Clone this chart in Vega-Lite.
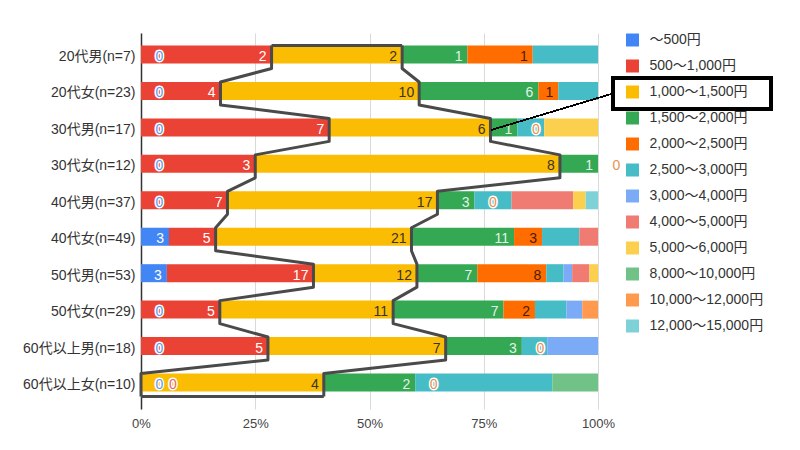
{
  "$schema": "https://vega.github.io/schema/vega-lite/v6.json",
  "width": 457,
  "height": 376,
  "autosize": {"type": "none"},
  "padding": {"left": 141, "top": 33, "right": 202, "bottom": 41},
  "background": "white",
  "config": {
    "font": "Liberation Sans, 'Noto Sans CJK JP', sans-serif",
    "view": {"stroke": null}
  },
  "data": {
    "values": [
      {"g": "20代男(n=7)", "r": 1, "c": "～500円", "k": 1, "n": 0},
      {"g": "20代男(n=7)", "r": 1, "c": "500～1,000円", "k": 2, "n": 2},
      {"g": "20代男(n=7)", "r": 1, "c": "1,000～1,500円", "k": 3, "n": 2},
      {"g": "20代男(n=7)", "r": 1, "c": "1,500～2,000円", "k": 4, "n": 1},
      {"g": "20代男(n=7)", "r": 1, "c": "2,000～2,500円", "k": 5, "n": 1},
      {"g": "20代男(n=7)", "r": 1, "c": "2,500～3,000円", "k": 6, "n": 1},

      {"g": "20代女(n=23)", "r": 2, "c": "～500円", "k": 1, "n": 0},
      {"g": "20代女(n=23)", "r": 2, "c": "500～1,000円", "k": 2, "n": 4},
      {"g": "20代女(n=23)", "r": 2, "c": "1,000～1,500円", "k": 3, "n": 10},
      {"g": "20代女(n=23)", "r": 2, "c": "1,500～2,000円", "k": 4, "n": 6},
      {"g": "20代女(n=23)", "r": 2, "c": "2,000～2,500円", "k": 5, "n": 1},
      {"g": "20代女(n=23)", "r": 2, "c": "2,500～3,000円", "k": 6, "n": 2},

      {"g": "30代男(n=17)", "r": 3, "c": "～500円", "k": 1, "n": 0},
      {"g": "30代男(n=17)", "r": 3, "c": "500～1,000円", "k": 2, "n": 7},
      {"g": "30代男(n=17)", "r": 3, "c": "1,000～1,500円", "k": 3, "n": 6},
      {"g": "30代男(n=17)", "r": 3, "c": "1,500～2,000円", "k": 4, "n": 1},
      {"g": "30代男(n=17)", "r": 3, "c": "2,000～2,500円", "k": 5, "n": 0},
      {"g": "30代男(n=17)", "r": 3, "c": "2,500～3,000円", "k": 6, "n": 1},
      {"g": "30代男(n=17)", "r": 3, "c": "5,000～6,000円", "k": 9, "n": 2},

      {"g": "30代女(n=12)", "r": 4, "c": "～500円", "k": 1, "n": 0},
      {"g": "30代女(n=12)", "r": 4, "c": "500～1,000円", "k": 2, "n": 3},
      {"g": "30代女(n=12)", "r": 4, "c": "1,000～1,500円", "k": 3, "n": 8},
      {"g": "30代女(n=12)", "r": 4, "c": "1,500～2,000円", "k": 4, "n": 1},
      {"g": "30代女(n=12)", "r": 4, "c": "2,000～2,500円", "k": 5, "n": 0},

      {"g": "40代男(n=37)", "r": 5, "c": "～500円", "k": 1, "n": 0},
      {"g": "40代男(n=37)", "r": 5, "c": "500～1,000円", "k": 2, "n": 7},
      {"g": "40代男(n=37)", "r": 5, "c": "1,000～1,500円", "k": 3, "n": 17},
      {"g": "40代男(n=37)", "r": 5, "c": "1,500～2,000円", "k": 4, "n": 3},
      {"g": "40代男(n=37)", "r": 5, "c": "2,000～2,500円", "k": 5, "n": 0},
      {"g": "40代男(n=37)", "r": 5, "c": "2,500～3,000円", "k": 6, "n": 3},
      {"g": "40代男(n=37)", "r": 5, "c": "4,000～5,000円", "k": 8, "n": 5},
      {"g": "40代男(n=37)", "r": 5, "c": "5,000～6,000円", "k": 9, "n": 1},
      {"g": "40代男(n=37)", "r": 5, "c": "12,000～15,000円", "k": 12, "n": 1},

      {"g": "40代女(n=49)", "r": 6, "c": "～500円", "k": 1, "n": 3},
      {"g": "40代女(n=49)", "r": 6, "c": "500～1,000円", "k": 2, "n": 5},
      {"g": "40代女(n=49)", "r": 6, "c": "1,000～1,500円", "k": 3, "n": 21},
      {"g": "40代女(n=49)", "r": 6, "c": "1,500～2,000円", "k": 4, "n": 11},
      {"g": "40代女(n=49)", "r": 6, "c": "2,000～2,500円", "k": 5, "n": 3},
      {"g": "40代女(n=49)", "r": 6, "c": "2,500～3,000円", "k": 6, "n": 4},
      {"g": "40代女(n=49)", "r": 6, "c": "4,000～5,000円", "k": 8, "n": 2},

      {"g": "50代男(n=53)", "r": 7, "c": "～500円", "k": 1, "n": 3},
      {"g": "50代男(n=53)", "r": 7, "c": "500～1,000円", "k": 2, "n": 17},
      {"g": "50代男(n=53)", "r": 7, "c": "1,000～1,500円", "k": 3, "n": 12},
      {"g": "50代男(n=53)", "r": 7, "c": "1,500～2,000円", "k": 4, "n": 7},
      {"g": "50代男(n=53)", "r": 7, "c": "2,000～2,500円", "k": 5, "n": 8},
      {"g": "50代男(n=53)", "r": 7, "c": "2,500～3,000円", "k": 6, "n": 2},
      {"g": "50代男(n=53)", "r": 7, "c": "3,000～4,000円", "k": 7, "n": 1},
      {"g": "50代男(n=53)", "r": 7, "c": "4,000～5,000円", "k": 8, "n": 2},
      {"g": "50代男(n=53)", "r": 7, "c": "5,000～6,000円", "k": 9, "n": 1},

      {"g": "50代女(n=29)", "r": 8, "c": "～500円", "k": 1, "n": 0},
      {"g": "50代女(n=29)", "r": 8, "c": "500～1,000円", "k": 2, "n": 5},
      {"g": "50代女(n=29)", "r": 8, "c": "1,000～1,500円", "k": 3, "n": 11},
      {"g": "50代女(n=29)", "r": 8, "c": "1,500～2,000円", "k": 4, "n": 7},
      {"g": "50代女(n=29)", "r": 8, "c": "2,000～2,500円", "k": 5, "n": 2},
      {"g": "50代女(n=29)", "r": 8, "c": "2,500～3,000円", "k": 6, "n": 2},
      {"g": "50代女(n=29)", "r": 8, "c": "3,000～4,000円", "k": 7, "n": 1},
      {"g": "50代女(n=29)", "r": 8, "c": "10,000～12,000円", "k": 11, "n": 1},

      {"g": "60代以上男(n=18)", "r": 9, "c": "～500円", "k": 1, "n": 0},
      {"g": "60代以上男(n=18)", "r": 9, "c": "500～1,000円", "k": 2, "n": 5},
      {"g": "60代以上男(n=18)", "r": 9, "c": "1,000～1,500円", "k": 3, "n": 7},
      {"g": "60代以上男(n=18)", "r": 9, "c": "1,500～2,000円", "k": 4, "n": 3},
      {"g": "60代以上男(n=18)", "r": 9, "c": "2,000～2,500円", "k": 5, "n": 0},
      {"g": "60代以上男(n=18)", "r": 9, "c": "2,500～3,000円", "k": 6, "n": 1},
      {"g": "60代以上男(n=18)", "r": 9, "c": "3,000～4,000円", "k": 7, "n": 2},

      {"g": "60代以上女(n=10)", "r": 10, "c": "～500円", "k": 1, "n": 0},
      {"g": "60代以上女(n=10)", "r": 10, "c": "500～1,000円", "k": 2, "n": 0},
      {"g": "60代以上女(n=10)", "r": 10, "c": "1,000～1,500円", "k": 3, "n": 4},
      {"g": "60代以上女(n=10)", "r": 10, "c": "1,500～2,000円", "k": 4, "n": 2},
      {"g": "60代以上女(n=10)", "r": 10, "c": "2,000～2,500円", "k": 5, "n": 0},
      {"g": "60代以上女(n=10)", "r": 10, "c": "2,500～3,000円", "k": 6, "n": 3},
      {"g": "60代以上女(n=10)", "r": 10, "c": "8,000～10,000円", "k": 10, "n": 1}
    ]
  },
  "transform": [
    {"stack": "n", "groupby": ["g"], "sort": [{"field": "k", "order": "ascending"}], "offset": "normalize", "as": ["x0", "x1"]}
  ],
  "encoding": {
    "y": {
      "field": "g",
      "type": "nominal",
      "title": null,
      "scale": {
        "domain": ["20代男(n=7)", "20代女(n=23)", "30代男(n=17)", "30代女(n=12)", "40代男(n=37)", "40代女(n=49)", "50代男(n=53)", "50代女(n=29)", "60代以上男(n=18)", "60代以上女(n=10)"],
        "paddingInner": 0.37,
        "paddingOuter": 0.344
      },
      "axis": {
        "domain": true,
        "domainColor": "#333333",
        "domainWidth": 1.5,
        "ticks": false,
        "grid": false,
        "labelFontSize": 14,
        "labelColor": "#333333",
        "labelPadding": 6
      }
    }
  },
  "layer": [
    {
      "mark": {"type": "bar"},
      "encoding": {
        "x": {
          "field": "x0",
          "type": "quantitative",
          "scale": {"domain": [0, 1], "nice": false, "zero": true},
          "axis": {
            "title": null,
            "values": [0, 0.25, 0.5, 0.75, 1],
            "format": ".0%",
            "domain": false,
            "ticks": false,
            "grid": true,
            "gridColor": "#d9d9d9",
            "labelFlush": false,
            "labelFontSize": 13,
            "labelColor": "#444444",
            "labelPadding": 8
          }
        },
        "x2": {"field": "x1"},
        "color": {
          "field": "c",
          "type": "nominal",
          "scale": {
            "domain": ["～500円", "500～1,000円", "1,000～1,500円", "1,500～2,000円", "2,000～2,500円", "2,500～3,000円", "3,000～4,000円", "4,000～5,000円", "5,000～6,000円", "8,000～10,000円", "10,000～12,000円", "12,000～15,000円"],
            "range": ["#4285F4", "#EA4335", "#FBBC04", "#34A853", "#FF6D01", "#46BDC6", "#7BAAF7", "#F07B72", "#FCD04F", "#71C287", "#FF994D", "#7ED1D7"]
          },
          "legend": {
            "title": null,
            "orient": "none",
            "legendX": 484.5,
            "legendY": 0,
            "padding": 0,
            "symbolType": "square",
            "symbolSize": 169,
            "symbolStrokeWidth": 0,
            "symbolOpacity": 1,
            "labelFontSize": 14,
            "labelColor": "#333333",
            "labelOffset": 10,
            "rowPadding": 12,
            "labelLimit": 200
          }
        }
      }
    },
    {
      "transform": [
        {"filter": "datum.k == 3"},
        {"fold": ["x0", "x1"], "as": ["side", "xv"]},
        {"fold": ["x0", "x1"], "as": ["edge", "dummy"]}
      ],
      "mark": {"type": "line", "color": "#4a4a4a", "strokeWidth": 3, "strokeJoin": "round"},
      "encoding": {
        "x": {"field": "xv", "type": "quantitative"},
        "yOffset": {"field": "edge", "type": "nominal", "scale": {"type": "point", "padding": 0, "domain": ["x0", "x1"]}},
        "detail": {"field": "side", "type": "nominal"},
        "order": [{"field": "r", "type": "quantitative"}, {"field": "edge", "type": "nominal"}]
      }
    },
    {
      "transform": [
        {"filter": "datum.k == 3"},
        {"fold": ["x0", "x1"], "as": ["side", "xv"]},
        {"fold": ["x0", "x1"], "as": ["edge", "dummy"]},
        {"filter": "(datum.r == 1 && datum.edge == 'x0') || (datum.r == 10 && datum.edge == 'x1')"}
      ],
      "mark": {"type": "line", "color": "#4a4a4a", "strokeWidth": 3, "strokeJoin": "round"},
      "encoding": {
        "x": {"field": "xv", "type": "quantitative"},
        "yOffset": {"field": "edge", "type": "nominal", "scale": {"type": "point", "padding": 0, "domain": ["x0", "x1"]}},
        "detail": {"field": "r", "type": "nominal"},
        "order": {"field": "xv", "type": "quantitative"}
      }
    },
    {
      "transform": [{"filter": "datum.k <= 5 && datum.n > 0"}],
      "mark": {"type": "text", "align": "right", "baseline": "middle", "dx": -5, "fontSize": 14},
      "encoding": {
        "x": {"field": "x1", "type": "quantitative"},
        "text": {"field": "n", "type": "quantitative"},
        "color": {
          "condition": [
            {"test": "datum.k == 3", "value": "#3b3324"},
            {"test": "datum.k == 5", "value": "#4a2000"},
            {"test": "datum.k == 4", "value": "#e3f2e7"}
          ],
          "value": "#ffffff"
        }
      }
    },
    {
      "transform": [{"filter": "datum.n == 0 && (datum.k == 1 || datum.k == 5)"}],
      "mark": {"type": "text", "align": "center", "baseline": "middle", "dx": 18.5, "fontSize": 14, "stroke": "#ffffff", "strokeWidth": 3, "fill": "#ffffff"},
      "encoding": {
        "x": {"field": "x0", "type": "quantitative"},
        "text": {"field": "n", "type": "quantitative"}
      }
    },
    {
      "transform": [{"filter": "datum.n == 0 && (datum.k == 1 || datum.k == 5)"}],
      "mark": {"type": "text", "align": "center", "baseline": "middle", "dx": 18.5, "fontSize": 14},
      "encoding": {
        "x": {"field": "x0", "type": "quantitative"},
        "text": {"field": "n", "type": "quantitative"},
        "color": {
          "condition": {"test": "datum.k == 1", "value": "#5f97f5"},
          "value": "#e8914f"
        }
      }
    },
    {
      "transform": [{"filter": "datum.n == 0 && datum.k == 2"}],
      "mark": {"type": "text", "align": "center", "baseline": "middle", "dx": 32, "fontSize": 14, "stroke": "#ffffff", "strokeWidth": 3, "fill": "#ffffff"},
      "encoding": {
        "x": {"field": "x0", "type": "quantitative"},
        "text": {"field": "n", "type": "quantitative"}
      }
    },
    {
      "transform": [{"filter": "datum.n == 0 && datum.k == 2"}],
      "mark": {"type": "text", "align": "center", "baseline": "middle", "dx": 32, "fontSize": 14, "color": "#e06a60"},
      "encoding": {
        "x": {"field": "x0", "type": "quantitative"},
        "text": {"field": "n", "type": "quantitative"}
      }
    },
    {
      "mark": {"type": "rule", "color": "#000000", "strokeWidth": 1},
      "encoding": {
        "x": {"datum": 0.767},
        "x2": {"datum": 1.0328},
        "y": {"datum": "30代男(n=17)"},
        "y2": {"datum": "20代女(n=23)"}
      }
    },
    {
      "mark": {"type": "bar", "fill": "transparent", "stroke": "#000000", "strokeWidth": 3, "height": 31},
      "encoding": {
        "x": {"datum": 1.0328},
        "x2": {"datum": 1.3786},
        "y": {"datum": "20代女(n=23)"}
      }
    }
  ]
}
